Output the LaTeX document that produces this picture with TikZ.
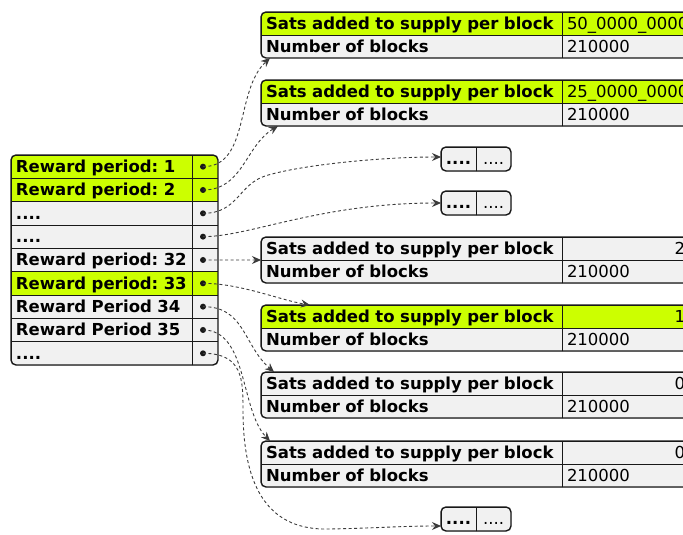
\documentclass[tikz,border=0pt]{standalone}
\usepackage{fontspec}
\setmainfont{DejaVu Sans}
\usetikzlibrary{arrows.meta,calc}
\definecolor{limefill}{HTML}{CCFF00}
\definecolor{cellgray}{HTML}{F1F1F1}
\definecolor{linec}{HTML}{181818}
\frenchspacing
\newcommand{\tabfont}{\fontsize{16.5pt}{19pt}\selectfont}
\newcommand{\fourdots}{....}
\tikzset{
  cell/.style={draw=linec, line width=0.8pt, fill=cellgray, anchor=north west,
    outer sep=0pt, inner xsep=5pt, inner ysep=0pt, minimum height=#1,
    text height=11.5pt, text depth=0pt, font=\tabfont},
  cell/.default=23pt,
  labcell/.style={cell=#1, font=\tabfont\bfseries},
  labcell/.default=23pt,
  frame/.style={draw=linec, line width=1.4pt, rounded corners=5pt},
  link/.style={draw=linec!85, line width=0.9pt, dash pattern=on 3pt off 2.5pt,
    -{Stealth[length=9pt,width=8pt,inset=3pt]}},
}
% right-hand table: name, top, fill of first row, value, alignment
\newcommand{\satsbox}[5]{%
  \begin{scope}
    \clip[rounded corners=5pt] (261,#2) rectangle (690,#2+46);
    \node[labcell, fill=#3, text width=291pt, align=left] (#1a) at (261,#2) {Sats added to supply per block};
    \node[cell, fill=#3, text width=118pt, align=#5] (#1av) at (#1a.north east) {#4};
    \node[labcell, text width=291pt, align=left] (#1b) at (#1a.south west) {Number of blocks};
    \node[cell, text width=118pt, align=left] (#1bv) at (#1b.north east) {210000};
  \end{scope}
  \draw[frame] (261,#2) rectangle (690,#2+46);}
% small "...." box: name, top
\newcommand{\dotbox}[2]{%
  \begin{scope}
    \clip[rounded corners=5pt] (441,#2) rectangle (511,#2+24);
    \node[labcell=24pt, minimum width=35pt, inner xsep=0pt] (#1l) at (441,#2) {\fourdots};
    \node[cell=24pt, minimum width=35pt, inner xsep=0pt] (#1r) at (#1l.north east) {\fourdots};
  \end{scope}
  \draw[frame] (441,#2) rectangle (511,#2+24);}

\begin{document}
\begin{tikzpicture}[x=1pt,y=-1pt]
\useasboundingbox (0,0) rectangle (683,535);
\clip (0,0) rectangle (683,535);
%reward periods
\begin{scope}
  \clip[rounded corners=5pt] (11,155) rectangle (218,365);
  \foreach \lbl/\fc [count=\i] in {Reward period: 1/limefill, Reward period: 2/limefill,
      \fourdots/cellgray, \fourdots/cellgray, Reward period: 32/cellgray, Reward period: 33/limefill,
      Reward Period 34/cellgray, Reward Period 35/cellgray, \fourdots/cellgray}{
    \node[labcell=23.33pt, fill=\fc, text width=171pt, align=left] (r\i) at (11,{155+(\i-1)*23.33}) {\lbl};
    \node[cell=23.33pt, fill=\fc, minimum width=26pt, inner xsep=0pt] (p\i) at (r\i.north east) {};
    \coordinate (d\i) at ($(p\i.center)+(-2,0)$);
  }
\end{scope}
\draw[frame] (11,155) rectangle (218,365);
\foreach \i in {1,2,3,4,5,6,7,8,9} \fill[linec] (d\i) circle (3pt);
%tables
\satsbox{t1}{12}{limefill}{50\_0000\_0000}{left}
\satsbox{t2}{80}{limefill}{25\_0000\_0000}{left}
\satsbox{t3}{237}{cellgray}{2}{right}
\satsbox{t4}{305}{limefill}{1}{right}
\satsbox{t5}{372}{cellgray}{0}{right}
\satsbox{t6}{441}{cellgray}{0}{right}
\dotbox{b1}{147}
\dotbox{b2}{191}
\dotbox{b3}{507}
%links
\draw[link] (d1) .. controls +(47,0) and +(-35,32) .. ($(t1b.south west)+(9,0)$);
\draw[link] (d2) .. controls +(40,0) and +(-33,20) .. ($(t2b.south west)+(17,0)$);
\draw[link] (d3) .. controls +(35,0) and +(-27,9) .. (265,176)
  .. controls +(35,-11) and +(-60,0) .. ($(b1l.west)+(0,-2)$);
\draw[link] (d4) .. controls +(47,0) and +(-121,0) .. (b2l.west);
\draw[link] (d5) -- (t3a.south west);
\draw[link] (d6) .. controls +(37,0) and +(-30,-5) .. ($(t4a.north west)+(49,0)$);
\draw[link] (d7) .. controls +(42,0) and +(-31,-27) .. ($(t5a.north west)+(13,0)$);
\draw[link] (d8) .. controls +(45,0) and +(-30,-31) .. ($(t6a.north west)+(9,0)$);
\draw[link] (d9) .. controls +(40,0) and +(0,-30) .. (243,410)
  .. controls +(0,80) and +(-60,2) .. (330,529)
  .. controls +(50,-1) and +(-40,0) .. ($(b3l.west)+(0,7)$);
\end{tikzpicture}
\end{document}
